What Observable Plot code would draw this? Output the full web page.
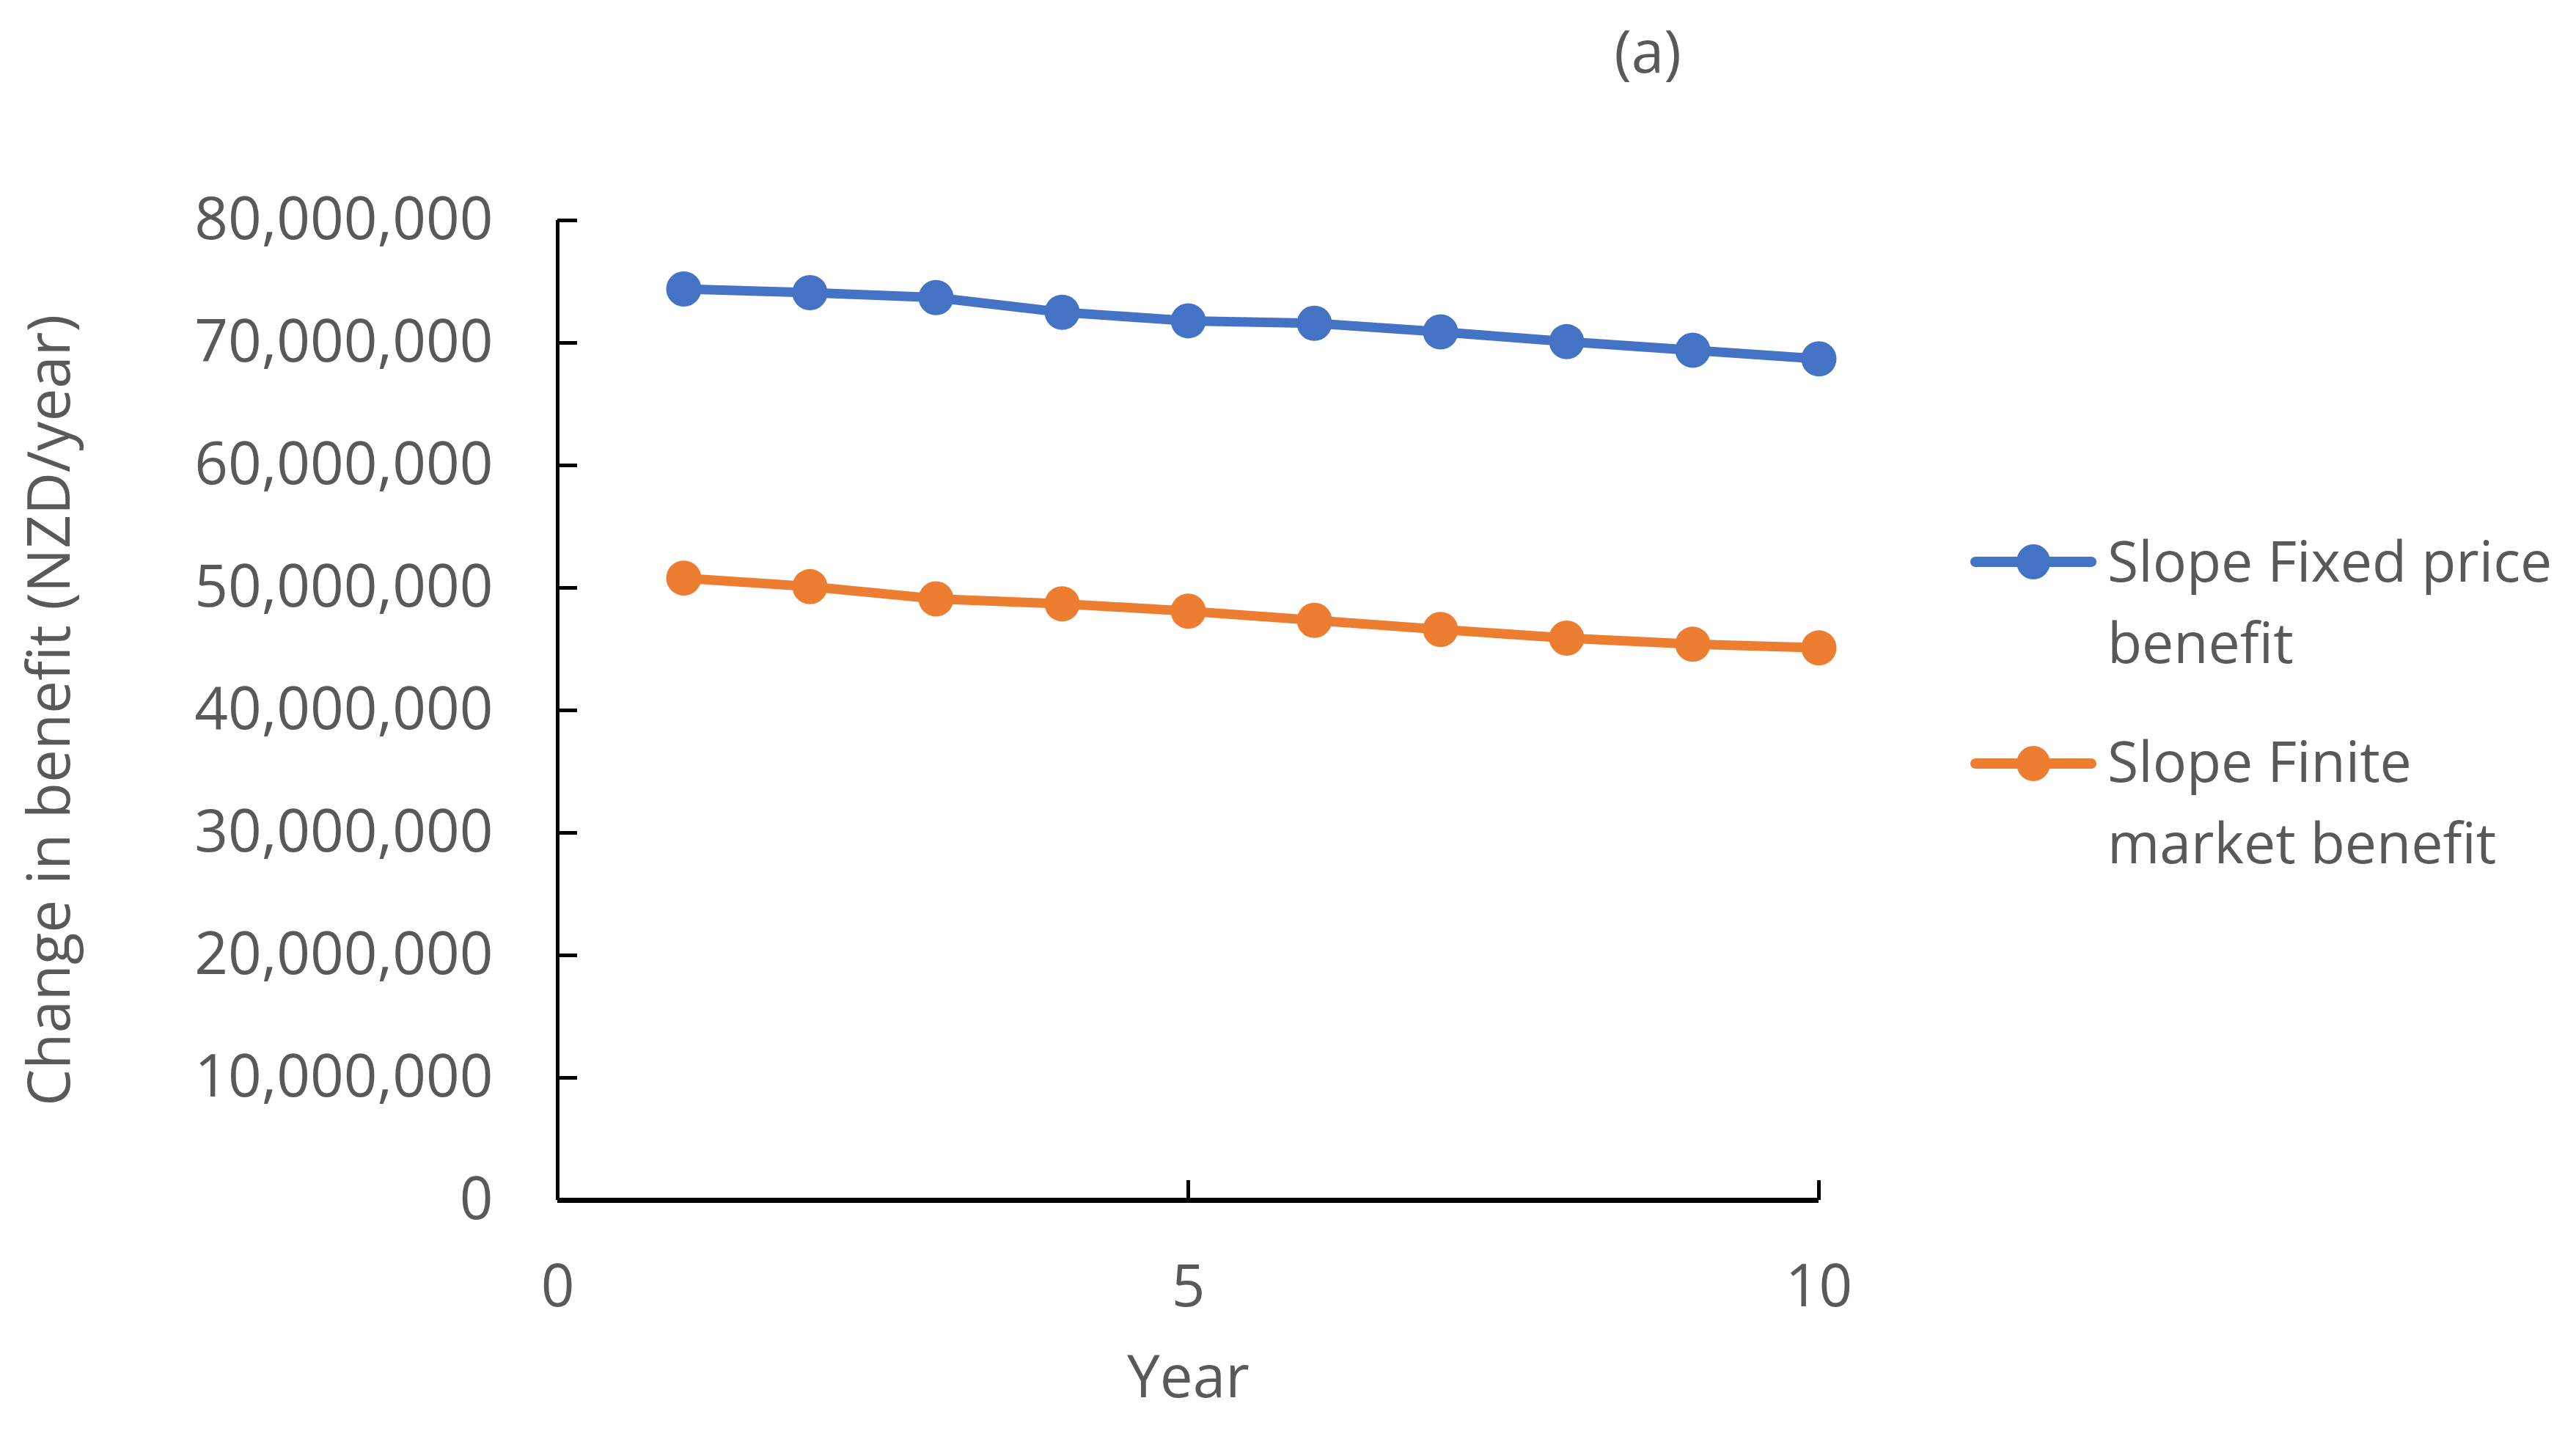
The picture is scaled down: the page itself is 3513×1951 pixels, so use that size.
<!DOCTYPE html>
<html><head><meta charset="utf-8">
<script src="https://cdn.jsdelivr.net/npm/d3@7"></script>
<script src="https://cdn.jsdelivr.net/npm/@observablehq/plot@0.6"></script>
<style>
html,body{margin:0;padding:0;background:#fff;}
#fig{position:relative;width:3513px;height:1951px;font-family:"Open Sans",sans-serif;color:#595959;overflow:hidden;}
#fig svg.plot{position:absolute;left:0;top:0;}
#title{position:absolute;left:2097px;width:300px;text-align:center;top:12px;font-size:80px;line-height:111px;}
.legtext{position:absolute;left:2874px;font-size:77px;line-height:111px;white-space:nowrap;}
.legsw{position:absolute;left:2686px;}
</style>
</head><body>
<div id="fig"></div>
<script>
const years = [1, 2, 3, 4, 5, 6, 7, 8, 9, 10];
const fixedPriceBenefit = [74.4e6, 74.1e6, 73.7e6, 72.5e6, 71.8e6, 71.6e6, 70.9e6, 70.1e6, 69.4e6, 68.7e6];
const finiteMarketBenefit = [50.8e6, 50.1e6, 49.1e6, 48.7e6, 48.1e6, 47.35e6, 46.6e6, 45.9e6, 45.4e6, 45.1e6];
const seriesNames = ["Slope Fixed price benefit", "Slope Finite market benefit"];
const seriesLines = [["Slope Fixed price", "benefit"], ["Slope Finite", "market benefit"]];
const seriesColors = ["#4472C4", "#ED7D31"];
const yTicks = [0, 10e6, 20e6, 30e6, 40e6, 50e6, 60e6, 70e6, 80e6];
const xTicks = [0, 5, 10];
const titleText = "(a)";
const xLabel = "Year";
const yLabel = "Change in benefit (NZD/year)";

const rows = [];
[fixedPriceBenefit, finiteMarketBenefit].forEach((vals, i) => {
  years.forEach((yr, j) => rows.push({series: seriesNames[i], year: yr, value: vals[j]}));
});

const chart = Plot.plot({
  width: 3513, height: 1951,
  marginLeft: 760, marginRight: 1033, marginTop: 300, marginBottom: 315,
  style: {fontFamily: '"Open Sans", sans-serif', fontSize: "80px", color: "#595959", background: "transparent"},
  x: {domain: [xTicks[0], xTicks[xTicks.length - 1]]},
  y: {domain: [yTicks[0], yTicks[yTicks.length - 1]]},
  color: {domain: seriesNames, range: seriesColors},
  marks: [
    Plot.axisY(yTicks, {anchor: "left", tickSize: 0, tickPadding: 88, tickFormat: d3.format(","), fill: "#595959", fontSize: 80,
      label: yLabel, labelAnchor: "center", labelArrow: "none", labelOffset: 722}),
    Plot.axisY(yTicks, {anchor: "left", tickSize: -27, tickFormat: () => "", stroke: "black", strokeWidth: 5, label: null}),
    Plot.axisX(xTicks, {anchor: "bottom", tickSize: 0, tickPadding: 88, tickFormat: d3.format("d"), fill: "#595959", fontSize: 80,
      label: xLabel, labelAnchor: "center", labelArrow: "none", labelOffset: 268}),
    Plot.axisX(xTicks, {anchor: "bottom", tickSize: -27, tickFormat: () => "", stroke: "black", strokeWidth: 5, label: null}),
    Plot.ruleX([xTicks[0]], {y1: yTicks[0], y2: yTicks[yTicks.length - 1], stroke: "black", strokeWidth: 5}),
    Plot.ruleY([yTicks[0]], {x1: xTicks[0], x2: xTicks[xTicks.length - 1], stroke: "black", strokeWidth: 7}),
    Plot.line(rows, {x: "year", y: "value", z: "series", stroke: "series", strokeWidth: 13, strokeLinejoin: "round", strokeLinecap: "round"}),
    Plot.dot(rows, {x: "year", y: "value", fill: "series", r: 24})
  ]
});
const fig = document.getElementById("fig");
fig.appendChild(chart);

const t = document.createElement("div");
t.id = "title"; t.textContent = titleText; fig.appendChild(t);

const legTops = [707.5, 980.5];
const swCenters = [766, 1041];
seriesNames.forEach((name, i) => {
  const sw = document.createElementNS("http://www.w3.org/2000/svg", "svg");
  sw.setAttribute("class", "legsw");
  sw.setAttribute("width", 176); sw.setAttribute("height", 60);
  sw.style.top = (swCenters[i] - 30) + "px";
  sw.innerHTML = `<line x1="8" y1="30" x2="166" y2="30" stroke="${seriesColors[i]}" stroke-width="14" stroke-linecap="round"/>` +
    `<ellipse cx="87" cy="30" rx="23" ry="24" fill="${seriesColors[i]}"/>`;
  fig.appendChild(sw);
  const tx = document.createElement("div");
  tx.className = "legtext";
  tx.style.top = legTops[i] + "px";
  tx.innerHTML = seriesLines[i].join("<br>");
  fig.appendChild(tx);
});
</script>
</body></html>
